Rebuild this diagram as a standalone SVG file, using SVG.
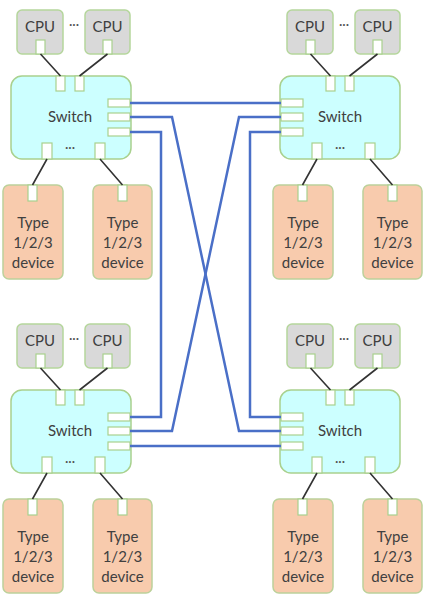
<svg xmlns="http://www.w3.org/2000/svg" width="432" height="597" viewBox="0 0 432 597">
<style>
.cpu{fill:#d9d9d9;stroke:#b5d69c;stroke-width:1.5}
.sw{fill:#ccffff;stroke:#a9d18e;stroke-width:1.5}
.dev{fill:#f8cbad;stroke:#bcd19a;stroke-width:1.5}
.port{fill:#ffffff;stroke:#a9d18e;stroke-width:1.2}
.t{font-family:Lato,"Open Sans",sans-serif;font-size:15px;fill:#404040;text-anchor:middle}
.dots{font-family:Lato,sans-serif;font-size:13px;fill:#555;text-anchor:middle}
.bk{stroke:#333;stroke-width:1.6;fill:none}
.bl{stroke:#4a6fc7;stroke-width:2.5;fill:none}
</style>
<rect width="432" height="597" fill="#ffffff"/>

<g id="q-tl">
  <g id="cpu-tl-1"><rect class="cpu" x="17" y="10" width="46" height="44" rx="5"/><text class="t" x="40" y="32">CPU</text><rect class="port" x="36" y="40" width="9" height="14"/></g>
  <g id="cpu-tl-2"><rect class="cpu" x="85" y="10" width="45" height="44" rx="5"/><text class="t" x="107.5" y="32">CPU</text><rect class="port" x="103" y="40" width="9" height="14"/></g>
  <text class="dots" x="74" y="29">···</text>
  <g id="switch-tl"><rect class="sw" x="11" y="76" width="120" height="83" rx="11"/><text class="t" x="70" y="122">Switch</text><text class="dots" x="70" y="152">···</text>
    <rect class="port" x="56" y="76" width="9" height="15"/><rect class="port" x="75" y="76" width="9" height="15"/>
    <rect class="port" x="42" y="143" width="10" height="16"/><rect class="port" x="95" y="143" width="10" height="16"/>
    <rect class="port" x="108" y="99" width="22" height="8"/><rect class="port" x="108" y="113" width="22" height="8"/><rect class="port" x="108" y="128" width="22" height="8"/></g>
  <g id="dev-tl-1"><rect class="dev" x="3" y="185" width="60" height="94" rx="6"/><rect class="port" x="28" y="185" width="9" height="16"/><text class="t" x="33" y="228">Type</text><text class="t" x="33" y="248">1/2/3</text><text class="t" x="33" y="268">device</text></g>
  <g id="dev-tl-2"><rect class="dev" x="93" y="185" width="59" height="94" rx="6"/><rect class="port" x="118" y="185" width="9" height="16"/><text class="t" x="122.5" y="228">Type</text><text class="t" x="122.5" y="248">1/2/3</text><text class="t" x="122.5" y="268">device</text></g>
</g>

<g id="q-tr" transform="translate(270,0)">
  <g id="cpu-tr-1"><rect class="cpu" x="17" y="10" width="46" height="44" rx="5"/><text class="t" x="40" y="32">CPU</text><rect class="port" x="36" y="40" width="9" height="14"/></g>
  <g id="cpu-tr-2"><rect class="cpu" x="85" y="10" width="45" height="44" rx="5"/><text class="t" x="107.5" y="32">CPU</text><rect class="port" x="103" y="40" width="9" height="14"/></g>
  <text class="dots" x="74" y="29">···</text>
  <g id="switch-tr"><rect class="sw" x="10" y="76" width="120" height="83" rx="11"/><text class="t" x="70" y="122">Switch</text><text class="dots" x="70" y="152">···</text>
    <rect class="port" x="56" y="76" width="9" height="15"/><rect class="port" x="75" y="76" width="9" height="15"/>
    <rect class="port" x="42" y="143" width="10" height="16"/><rect class="port" x="95" y="143" width="10" height="16"/>
    <rect class="port" x="11" y="99" width="22" height="8"/><rect class="port" x="11" y="113" width="22" height="8"/><rect class="port" x="11" y="128" width="22" height="8"/></g>
  <g id="dev-tr-1"><rect class="dev" x="3" y="185" width="60" height="94" rx="6"/><rect class="port" x="28" y="185" width="9" height="16"/><text class="t" x="33" y="228">Type</text><text class="t" x="33" y="248">1/2/3</text><text class="t" x="33" y="268">device</text></g>
  <g id="dev-tr-2"><rect class="dev" x="93" y="185" width="59" height="94" rx="6"/><rect class="port" x="118" y="185" width="9" height="16"/><text class="t" x="122.5" y="228">Type</text><text class="t" x="122.5" y="248">1/2/3</text><text class="t" x="122.5" y="268">device</text></g>
</g>

<g id="q-bl" transform="translate(0,314)">
  <g id="cpu-bl-1"><rect class="cpu" x="17" y="10" width="46" height="44" rx="5"/><text class="t" x="40" y="32">CPU</text><rect class="port" x="36" y="40" width="9" height="14"/></g>
  <g id="cpu-bl-2"><rect class="cpu" x="85" y="10" width="45" height="44" rx="5"/><text class="t" x="107.5" y="32">CPU</text><rect class="port" x="103" y="40" width="9" height="14"/></g>
  <text class="dots" x="74" y="29">···</text>
  <g id="switch-bl"><rect class="sw" x="11" y="76" width="120" height="83" rx="11"/><text class="t" x="70" y="122">Switch</text><text class="dots" x="70" y="152">···</text>
    <rect class="port" x="56" y="76" width="9" height="15"/><rect class="port" x="75" y="76" width="9" height="15"/>
    <rect class="port" x="42" y="143" width="10" height="16"/><rect class="port" x="95" y="143" width="10" height="16"/>
    <rect class="port" x="108" y="99" width="22" height="8"/><rect class="port" x="108" y="113" width="22" height="8"/><rect class="port" x="108" y="128" width="22" height="8"/></g>
  <g id="dev-bl-1"><rect class="dev" x="3" y="185" width="60" height="94" rx="6"/><rect class="port" x="28" y="185" width="9" height="16"/><text class="t" x="33" y="228">Type</text><text class="t" x="33" y="248">1/2/3</text><text class="t" x="33" y="268">device</text></g>
  <g id="dev-bl-2"><rect class="dev" x="93" y="185" width="59" height="94" rx="6"/><rect class="port" x="118" y="185" width="9" height="16"/><text class="t" x="122.5" y="228">Type</text><text class="t" x="122.5" y="248">1/2/3</text><text class="t" x="122.5" y="268">device</text></g>
</g>

<g id="q-br" transform="translate(270,314)">
  <g id="cpu-br-1"><rect class="cpu" x="17" y="10" width="46" height="44" rx="5"/><text class="t" x="40" y="32">CPU</text><rect class="port" x="36" y="40" width="9" height="14"/></g>
  <g id="cpu-br-2"><rect class="cpu" x="85" y="10" width="45" height="44" rx="5"/><text class="t" x="107.5" y="32">CPU</text><rect class="port" x="103" y="40" width="9" height="14"/></g>
  <text class="dots" x="74" y="29">···</text>
  <g id="switch-br"><rect class="sw" x="10" y="76" width="120" height="83" rx="11"/><text class="t" x="70" y="122">Switch</text><text class="dots" x="70" y="152">···</text>
    <rect class="port" x="56" y="76" width="9" height="15"/><rect class="port" x="75" y="76" width="9" height="15"/>
    <rect class="port" x="42" y="143" width="10" height="16"/><rect class="port" x="95" y="143" width="10" height="16"/>
    <rect class="port" x="11" y="99" width="22" height="8"/><rect class="port" x="11" y="113" width="22" height="8"/><rect class="port" x="11" y="128" width="22" height="8"/></g>
  <g id="dev-br-1"><rect class="dev" x="3" y="185" width="60" height="94" rx="6"/><rect class="port" x="28" y="185" width="9" height="16"/><text class="t" x="33" y="228">Type</text><text class="t" x="33" y="248">1/2/3</text><text class="t" x="33" y="268">device</text></g>
  <g id="dev-br-2"><rect class="dev" x="93" y="185" width="59" height="94" rx="6"/><rect class="port" x="118" y="185" width="9" height="16"/><text class="t" x="122.5" y="228">Type</text><text class="t" x="122.5" y="248">1/2/3</text><text class="t" x="122.5" y="268">device</text></g>
</g>

<g id="connectors">
  <g id="local-links">
    <path class="bk" d="M40.5 54 L60.5 76 M107.5 54 L79.5 76 M47 159 L32.5 185 M100 159 L122.5 185"/>
    <path class="bk" d="M310.5 54 L330.5 76 M377.5 54 L349.5 76 M317 159 L302.5 185 M370 159 L392.5 185"/>
    <path class="bk" d="M40.5 368 L60.5 390 M107.5 368 L79.5 390 M47 473 L32.5 499 M100 473 L122.5 499"/>
    <path class="bk" d="M310.5 368 L330.5 390 M377.5 368 L349.5 390 M317 473 L302.5 499 M370 473 L392.5 499"/>
  </g>
  <g id="switch-links">
    <path class="bl" d="M130 103 L281 103"/>
    <path class="bl" d="M130 117 L172 117 L239 431 L281 431"/>
    <path class="bl" d="M130 132 L161 132 L161 417 L130 417"/>
    <path class="bl" d="M281 117 L239 117 L172 431 L130 431"/>
    <path class="bl" d="M281 132 L250 132 L250 417 L281 417"/>
    <path class="bl" d="M130 446 L281 446"/>
  </g>
</g>
</svg>
